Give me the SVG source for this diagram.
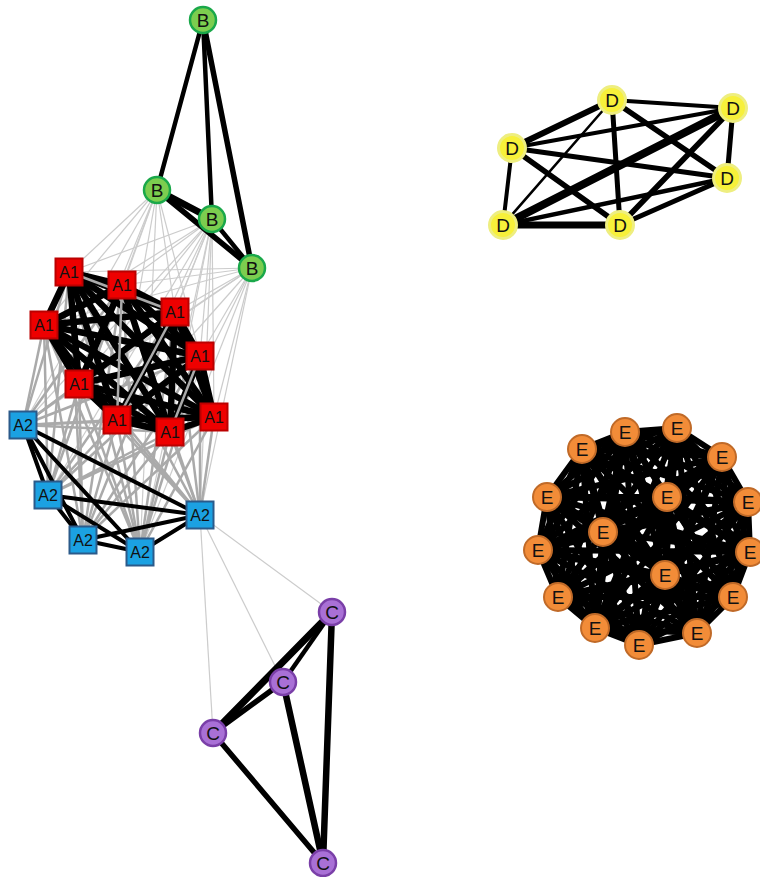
<svg xmlns="http://www.w3.org/2000/svg" width="760" height="877" viewBox="0 0 760 877">
<style>
text{font-family:"Liberation Sans","Open Sans",sans-serif;font-size:19px;fill:#111;text-anchor:middle;dominant-baseline:central}
.a1 text,.a2 text{font-size:16px}
.k{stroke:#000;stroke-linecap:round}
.g{stroke:#aaa;stroke-width:2.5}
.lg{stroke:#ccc;stroke-width:1.2}
.a1 rect{fill:#e00;stroke:#b00;stroke-width:2}
.a2 rect{fill:#1ba1e2;stroke:#2b5a8a;stroke-width:2}
.b circle{fill:#7ccd4f;stroke:#1aa84a;stroke-width:2.5}
.c circle{fill:#a970d6;stroke:#7a3fa8;stroke-width:2.5}
.d circle{fill:#f7f03a;stroke:#eeee80;stroke-width:3}
.e circle{fill:#f28c38;stroke:#c06a28;stroke-width:2}
</style>
<g id="connectors">
<g class="lg">
<line x1="157" y1="190" x2="69" y2="272"/><line x1="157" y1="190" x2="122" y2="285"/><line x1="157" y1="190" x2="44" y2="325"/><line x1="157" y1="190" x2="175" y2="312"/><line x1="157" y1="190" x2="200" y2="356"/><line x1="157" y1="190" x2="79" y2="384"/><line x1="157" y1="190" x2="117" y2="420"/><line x1="157" y1="190" x2="23" y2="425"/><line x1="157" y1="190" x2="140" y2="552"/><line x1="157" y1="190" x2="48" y2="495"/>
<line x1="212" y1="219" x2="69" y2="272"/><line x1="212" y1="219" x2="122" y2="285"/><line x1="212" y1="219" x2="44" y2="325"/><line x1="212" y1="219" x2="175" y2="312"/><line x1="212" y1="219" x2="200" y2="356"/><line x1="212" y1="219" x2="79" y2="384"/><line x1="212" y1="219" x2="117" y2="420"/><line x1="212" y1="219" x2="170" y2="432"/><line x1="212" y1="219" x2="214" y2="417"/><line x1="212" y1="219" x2="23" y2="425"/><line x1="212" y1="219" x2="83" y2="540"/><line x1="212" y1="219" x2="140" y2="552"/><line x1="212" y1="219" x2="200" y2="515"/><line x1="212" y1="219" x2="48" y2="495"/>
<line x1="252" y1="268" x2="69" y2="272"/><line x1="252" y1="268" x2="122" y2="285"/><line x1="252" y1="268" x2="44" y2="325"/><line x1="252" y1="268" x2="175" y2="312"/><line x1="252" y1="268" x2="200" y2="356"/><line x1="252" y1="268" x2="79" y2="384"/><line x1="252" y1="268" x2="117" y2="420"/><line x1="252" y1="268" x2="170" y2="432"/><line x1="252" y1="268" x2="214" y2="417"/><line x1="252" y1="268" x2="23" y2="425"/><line x1="252" y1="268" x2="140" y2="552"/><line x1="252" y1="268" x2="200" y2="515"/>
<line x1="200" y1="515" x2="332" y2="612"/><line x1="200" y1="515" x2="283" y2="682"/><line x1="200" y1="515" x2="213" y2="733"/>
</g>
<g class="g">
<line x1="23" y1="425" x2="69" y2="272"/><line x1="23" y1="425" x2="122" y2="285"/><line x1="23" y1="425" x2="44" y2="325"/><line x1="23" y1="425" x2="175" y2="312"/><line x1="23" y1="425" x2="200" y2="356"/><line x1="23" y1="425" x2="79" y2="384"/><line x1="23" y1="425" x2="117" y2="420"/><line x1="23" y1="425" x2="170" y2="432"/><line x1="23" y1="425" x2="214" y2="417"/>
<line x1="48" y1="495" x2="69" y2="272"/><line x1="48" y1="495" x2="122" y2="285"/><line x1="48" y1="495" x2="44" y2="325"/><line x1="48" y1="495" x2="175" y2="312"/><line x1="48" y1="495" x2="200" y2="356"/><line x1="48" y1="495" x2="79" y2="384"/><line x1="48" y1="495" x2="117" y2="420"/><line x1="48" y1="495" x2="170" y2="432"/><line x1="48" y1="495" x2="214" y2="417"/>
<line x1="83" y1="540" x2="69" y2="272"/><line x1="83" y1="540" x2="122" y2="285"/><line x1="83" y1="540" x2="44" y2="325"/><line x1="83" y1="540" x2="175" y2="312"/><line x1="83" y1="540" x2="200" y2="356"/><line x1="83" y1="540" x2="79" y2="384"/><line x1="83" y1="540" x2="117" y2="420"/><line x1="83" y1="540" x2="170" y2="432"/><line x1="83" y1="540" x2="214" y2="417"/>
<line x1="140" y1="552" x2="69" y2="272"/><line x1="140" y1="552" x2="122" y2="285"/><line x1="140" y1="552" x2="44" y2="325"/><line x1="140" y1="552" x2="175" y2="312"/><line x1="140" y1="552" x2="200" y2="356"/><line x1="140" y1="552" x2="79" y2="384"/><line x1="140" y1="552" x2="117" y2="420"/><line x1="140" y1="552" x2="170" y2="432"/><line x1="140" y1="552" x2="214" y2="417"/>
<line x1="200" y1="515" x2="69" y2="272"/><line x1="200" y1="515" x2="122" y2="285"/><line x1="200" y1="515" x2="44" y2="325"/><line x1="200" y1="515" x2="175" y2="312"/><line x1="200" y1="515" x2="200" y2="356"/><line x1="200" y1="515" x2="79" y2="384"/><line x1="200" y1="515" x2="117" y2="420"/><line x1="200" y1="515" x2="170" y2="432"/><line x1="200" y1="515" x2="214" y2="417"/>
</g>
<g class="k" stroke-width="6.5">
<line x1="69" y1="272" x2="122" y2="285"/><line x1="69" y1="272" x2="44" y2="325"/><line x1="69" y1="272" x2="175" y2="312"/><line x1="69" y1="272" x2="200" y2="356"/><line x1="69" y1="272" x2="79" y2="384"/><line x1="69" y1="272" x2="117" y2="420"/><line x1="69" y1="272" x2="170" y2="432"/><line x1="69" y1="272" x2="214" y2="417"/>
<line x1="122" y1="285" x2="44" y2="325"/><line x1="122" y1="285" x2="175" y2="312"/><line x1="122" y1="285" x2="200" y2="356"/><line x1="122" y1="285" x2="79" y2="384"/><line x1="122" y1="285" x2="170" y2="432"/><line x1="122" y1="285" x2="214" y2="417"/>
<line x1="44" y1="325" x2="175" y2="312"/><line x1="44" y1="325" x2="200" y2="356"/><line x1="44" y1="325" x2="79" y2="384"/><line x1="44" y1="325" x2="117" y2="420"/><line x1="44" y1="325" x2="170" y2="432"/><line x1="44" y1="325" x2="214" y2="417"/>
<line x1="175" y1="312" x2="200" y2="356"/><line x1="175" y1="312" x2="79" y2="384"/><line x1="175" y1="312" x2="117" y2="420"/><line x1="175" y1="312" x2="170" y2="432"/><line x1="175" y1="312" x2="214" y2="417"/>
<line x1="200" y1="356" x2="79" y2="384"/><line x1="200" y1="356" x2="117" y2="420"/><line x1="200" y1="356" x2="170" y2="432"/><line x1="200" y1="356" x2="214" y2="417"/>
<line x1="79" y1="384" x2="117" y2="420"/><line x1="79" y1="384" x2="170" y2="432"/><line x1="79" y1="384" x2="214" y2="417"/>
<line x1="117" y1="420" x2="170" y2="432"/><line x1="117" y1="420" x2="214" y2="417"/><line x1="170" y1="432" x2="214" y2="417"/>
</g>
<g class="g" stroke-width="2">
<line x1="122" y1="285" x2="117" y2="420"/><line x1="175" y1="312" x2="117" y2="420"/><line x1="200" y1="356" x2="170" y2="432"/><line x1="69" y1="272" x2="175" y2="312"/>
</g>
<g class="k" stroke-width="4">
<line x1="23" y1="425" x2="48" y2="495"/><line x1="23" y1="425" x2="83" y2="540"/><line x1="23" y1="425" x2="140" y2="552"/><line x1="23" y1="425" x2="200" y2="515"/>
<line x1="48" y1="495" x2="83" y2="540"/><line x1="48" y1="495" x2="140" y2="552"/><line x1="48" y1="495" x2="200" y2="515"/>
<line x1="83" y1="540" x2="140" y2="552"/><line x1="83" y1="540" x2="200" y2="515"/><line x1="140" y1="552" x2="200" y2="515"/>
</g>
<g class="k">
<line x1="203" y1="20" x2="157" y2="190" stroke-width="4.5"/>
<line x1="203" y1="20" x2="212" y2="219" stroke-width="4.5"/>
<line x1="203" y1="20" x2="252" y2="268" stroke-width="5.5"/>
<line x1="157" y1="190" x2="212" y2="219" stroke-width="7"/>
<line x1="157" y1="190" x2="252" y2="268" stroke-width="5.5"/>
<line x1="212" y1="219" x2="252" y2="268" stroke-width="4.5"/>
</g>
<g class="k">
<line x1="332" y1="612" x2="213" y2="733" stroke-width="7"/>
<line x1="332" y1="612" x2="283" y2="682" stroke-width="4.5"/>
<line x1="283" y1="682" x2="213" y2="733" stroke-width="5.5"/>
<line x1="332" y1="612" x2="323" y2="863" stroke-width="6.5"/>
<line x1="283" y1="682" x2="323" y2="863" stroke-width="6.5"/>
<line x1="213" y1="733" x2="323" y2="863" stroke-width="5.5"/>
</g>
<g class="k">
<line x1="612" y1="100" x2="733" y2="108" stroke-width="4"/>
<line x1="612" y1="100" x2="512" y2="148" stroke-width="6"/>
<line x1="612" y1="100" x2="727" y2="178" stroke-width="5.5"/>
<line x1="612" y1="100" x2="503" y2="225" stroke-width="2.5"/>
<line x1="612" y1="100" x2="620" y2="225" stroke-width="5"/>
<line x1="733" y1="108" x2="512" y2="148" stroke-width="4"/>
<line x1="733" y1="108" x2="727" y2="178" stroke-width="5"/>
<line x1="733" y1="108" x2="503" y2="225" stroke-width="8"/>
<line x1="733" y1="108" x2="620" y2="225" stroke-width="5.5"/>
<line x1="512" y1="148" x2="727" y2="178" stroke-width="5"/>
<line x1="512" y1="148" x2="503" y2="225" stroke-width="4"/>
<line x1="512" y1="148" x2="620" y2="225" stroke-width="5.5"/>
<line x1="727" y1="178" x2="503" y2="225" stroke-width="4.5"/>
<line x1="727" y1="178" x2="620" y2="225" stroke-width="5"/>
<line x1="503" y1="225" x2="620" y2="225" stroke-width="7"/>
</g>
<g class="k" stroke-width="6" id="e-edges">
<line x1="625" y1="432" x2="677" y2="428"/><line x1="625" y1="432" x2="582" y2="449"/><line x1="625" y1="432" x2="722" y2="457"/><line x1="625" y1="432" x2="547" y2="497"/><line x1="625" y1="432" x2="667" y2="497"/><line x1="625" y1="432" x2="748" y2="502"/><line x1="625" y1="432" x2="603" y2="532"/><line x1="625" y1="432" x2="538" y2="550"/><line x1="625" y1="432" x2="750" y2="552"/><line x1="625" y1="432" x2="665" y2="575"/><line x1="625" y1="432" x2="558" y2="597"/><line x1="625" y1="432" x2="733" y2="597"/><line x1="625" y1="432" x2="595" y2="628"/><line x1="625" y1="432" x2="697" y2="633"/><line x1="625" y1="432" x2="639" y2="645"/>
<line x1="677" y1="428" x2="582" y2="449"/><line x1="677" y1="428" x2="722" y2="457"/><line x1="677" y1="428" x2="547" y2="497"/><line x1="677" y1="428" x2="667" y2="497"/><line x1="677" y1="428" x2="748" y2="502"/><line x1="677" y1="428" x2="603" y2="532"/><line x1="677" y1="428" x2="538" y2="550"/><line x1="677" y1="428" x2="750" y2="552"/><line x1="677" y1="428" x2="665" y2="575"/><line x1="677" y1="428" x2="558" y2="597"/><line x1="677" y1="428" x2="733" y2="597"/><line x1="677" y1="428" x2="595" y2="628"/><line x1="677" y1="428" x2="697" y2="633"/><line x1="677" y1="428" x2="639" y2="645"/>
<line x1="582" y1="449" x2="722" y2="457"/><line x1="582" y1="449" x2="547" y2="497"/><line x1="582" y1="449" x2="667" y2="497"/><line x1="582" y1="449" x2="748" y2="502"/><line x1="582" y1="449" x2="603" y2="532"/><line x1="582" y1="449" x2="538" y2="550"/><line x1="582" y1="449" x2="750" y2="552"/><line x1="582" y1="449" x2="665" y2="575"/><line x1="582" y1="449" x2="558" y2="597"/><line x1="582" y1="449" x2="733" y2="597"/><line x1="582" y1="449" x2="595" y2="628"/><line x1="582" y1="449" x2="697" y2="633"/><line x1="582" y1="449" x2="639" y2="645"/>
<line x1="722" y1="457" x2="547" y2="497"/><line x1="722" y1="457" x2="667" y2="497"/><line x1="722" y1="457" x2="748" y2="502"/><line x1="722" y1="457" x2="603" y2="532"/><line x1="722" y1="457" x2="538" y2="550"/><line x1="722" y1="457" x2="750" y2="552"/><line x1="722" y1="457" x2="665" y2="575"/><line x1="722" y1="457" x2="558" y2="597"/><line x1="722" y1="457" x2="733" y2="597"/><line x1="722" y1="457" x2="595" y2="628"/><line x1="722" y1="457" x2="697" y2="633"/><line x1="722" y1="457" x2="639" y2="645"/>
<line x1="547" y1="497" x2="667" y2="497"/><line x1="547" y1="497" x2="748" y2="502"/><line x1="547" y1="497" x2="603" y2="532"/><line x1="547" y1="497" x2="538" y2="550"/><line x1="547" y1="497" x2="750" y2="552"/><line x1="547" y1="497" x2="665" y2="575"/><line x1="547" y1="497" x2="558" y2="597"/><line x1="547" y1="497" x2="733" y2="597"/><line x1="547" y1="497" x2="595" y2="628"/><line x1="547" y1="497" x2="697" y2="633"/><line x1="547" y1="497" x2="639" y2="645"/>
<line x1="667" y1="497" x2="748" y2="502"/><line x1="667" y1="497" x2="603" y2="532"/><line x1="667" y1="497" x2="538" y2="550"/><line x1="667" y1="497" x2="750" y2="552"/><line x1="667" y1="497" x2="665" y2="575"/><line x1="667" y1="497" x2="558" y2="597"/><line x1="667" y1="497" x2="733" y2="597"/><line x1="667" y1="497" x2="595" y2="628"/><line x1="667" y1="497" x2="697" y2="633"/><line x1="667" y1="497" x2="639" y2="645"/>
<line x1="748" y1="502" x2="603" y2="532"/><line x1="748" y1="502" x2="538" y2="550"/><line x1="748" y1="502" x2="750" y2="552"/><line x1="748" y1="502" x2="665" y2="575"/><line x1="748" y1="502" x2="558" y2="597"/><line x1="748" y1="502" x2="733" y2="597"/><line x1="748" y1="502" x2="595" y2="628"/><line x1="748" y1="502" x2="697" y2="633"/><line x1="748" y1="502" x2="639" y2="645"/>
<line x1="603" y1="532" x2="538" y2="550"/><line x1="603" y1="532" x2="750" y2="552"/><line x1="603" y1="532" x2="665" y2="575"/><line x1="603" y1="532" x2="558" y2="597"/><line x1="603" y1="532" x2="733" y2="597"/><line x1="603" y1="532" x2="595" y2="628"/><line x1="603" y1="532" x2="697" y2="633"/><line x1="603" y1="532" x2="639" y2="645"/>
<line x1="538" y1="550" x2="750" y2="552"/><line x1="538" y1="550" x2="665" y2="575"/><line x1="538" y1="550" x2="558" y2="597"/><line x1="538" y1="550" x2="733" y2="597"/><line x1="538" y1="550" x2="595" y2="628"/><line x1="538" y1="550" x2="697" y2="633"/><line x1="538" y1="550" x2="639" y2="645"/>
<line x1="750" y1="552" x2="665" y2="575"/><line x1="750" y1="552" x2="558" y2="597"/><line x1="750" y1="552" x2="733" y2="597"/><line x1="750" y1="552" x2="595" y2="628"/><line x1="750" y1="552" x2="697" y2="633"/><line x1="750" y1="552" x2="639" y2="645"/>
<line x1="665" y1="575" x2="558" y2="597"/><line x1="665" y1="575" x2="733" y2="597"/><line x1="665" y1="575" x2="595" y2="628"/><line x1="665" y1="575" x2="697" y2="633"/><line x1="665" y1="575" x2="639" y2="645"/>
<line x1="558" y1="597" x2="733" y2="597"/><line x1="558" y1="597" x2="595" y2="628"/><line x1="558" y1="597" x2="697" y2="633"/><line x1="558" y1="597" x2="639" y2="645"/>
<line x1="733" y1="597" x2="595" y2="628"/><line x1="733" y1="597" x2="697" y2="633"/><line x1="733" y1="597" x2="639" y2="645"/>
<line x1="595" y1="628" x2="697" y2="633"/><line x1="595" y1="628" x2="639" y2="645"/><line x1="697" y1="633" x2="639" y2="645"/>
</g>
</g>
<g id="nodes-B" class="b">
<g id="b1"><circle cx="203" cy="20" r="13"/><text x="203" y="20">B</text></g>
<g id="b2"><circle cx="157" cy="190" r="13"/><text x="157" y="190">B</text></g>
<g id="b3"><circle cx="212" cy="219" r="13"/><text x="212" y="219">B</text></g>
<g id="b4"><circle cx="252" cy="268" r="13"/><text x="252" y="268">B</text></g>
</g>
<g id="nodes-A1" class="a1">
<g id="a1-1"><rect x="55.5" y="258.5" width="27" height="27"/><text x="69" y="272">A1</text></g>
<g id="a1-2"><rect x="108.5" y="271.5" width="27" height="27"/><text x="122" y="285">A1</text></g>
<g id="a1-3"><rect x="30.5" y="311.5" width="27" height="27"/><text x="44" y="325">A1</text></g>
<g id="a1-4"><rect x="161.5" y="298.5" width="27" height="27"/><text x="175" y="312">A1</text></g>
<g id="a1-5"><rect x="186.5" y="342.5" width="27" height="27"/><text x="200" y="356">A1</text></g>
<g id="a1-6"><rect x="65.5" y="370.5" width="27" height="27"/><text x="79" y="384">A1</text></g>
<g id="a1-7"><rect x="103.5" y="406.5" width="27" height="27"/><text x="117" y="420">A1</text></g>
<g id="a1-8"><rect x="156.5" y="418.5" width="27" height="27"/><text x="170" y="432">A1</text></g>
<g id="a1-9"><rect x="200.5" y="403.5" width="27" height="27"/><text x="214" y="417">A1</text></g>
</g>
<g id="nodes-A2" class="a2">
<g id="a2-1"><rect x="9.5" y="411.5" width="27" height="27"/><text x="23" y="425">A2</text></g>
<g id="a2-2"><rect x="34.5" y="481.5" width="27" height="27"/><text x="48" y="495">A2</text></g>
<g id="a2-3"><rect x="69.5" y="526.5" width="27" height="27"/><text x="83" y="540">A2</text></g>
<g id="a2-4"><rect x="126.5" y="538.5" width="27" height="27"/><text x="140" y="552">A2</text></g>
<g id="a2-5"><rect x="186.5" y="501.5" width="27" height="27"/><text x="200" y="515">A2</text></g>
</g>
<g id="nodes-C" class="c">
<g id="c1"><circle cx="332" cy="612" r="13"/><text x="332" y="612">C</text></g>
<g id="c2"><circle cx="283" cy="682" r="13"/><text x="283" y="682">C</text></g>
<g id="c3"><circle cx="213" cy="733" r="13"/><text x="213" y="733">C</text></g>
<g id="c4"><circle cx="323" cy="863" r="13"/><text x="323" y="863">C</text></g>
</g>
<g id="nodes-D" class="d">
<g id="d1"><circle cx="612" cy="100" r="13.5"/><text x="612" y="100">D</text></g>
<g id="d2"><circle cx="733" cy="108" r="13.5"/><text x="733" y="108">D</text></g>
<g id="d3"><circle cx="512" cy="148" r="13.5"/><text x="512" y="148">D</text></g>
<g id="d4"><circle cx="727" cy="178" r="13.5"/><text x="727" y="178">D</text></g>
<g id="d5"><circle cx="503" cy="225" r="13.5"/><text x="503" y="225">D</text></g>
<g id="d6"><circle cx="620" cy="225" r="13.5"/><text x="620" y="225">D</text></g>
</g>
<g id="nodes-E" class="e">
<g id="e1"><circle cx="625" cy="432" r="14"/><text x="625" y="432">E</text></g>
<g id="e2"><circle cx="677" cy="428" r="14"/><text x="677" y="428">E</text></g>
<g id="e3"><circle cx="582" cy="449" r="14"/><text x="582" y="449">E</text></g>
<g id="e4"><circle cx="722" cy="457" r="14"/><text x="722" y="457">E</text></g>
<g id="e5"><circle cx="547" cy="497" r="14"/><text x="547" y="497">E</text></g>
<g id="e6"><circle cx="667" cy="497" r="14"/><text x="667" y="497">E</text></g>
<g id="e7"><circle cx="748" cy="502" r="14"/><text x="748" y="502">E</text></g>
<g id="e8"><circle cx="603" cy="532" r="14"/><text x="603" y="532">E</text></g>
<g id="e9"><circle cx="538" cy="550" r="14"/><text x="538" y="550">E</text></g>
<g id="e10"><circle cx="750" cy="552" r="14"/><text x="750" y="552">E</text></g>
<g id="e11"><circle cx="665" cy="575" r="14"/><text x="665" y="575">E</text></g>
<g id="e12"><circle cx="558" cy="597" r="14"/><text x="558" y="597">E</text></g>
<g id="e13"><circle cx="733" cy="597" r="14"/><text x="733" y="597">E</text></g>
<g id="e14"><circle cx="595" cy="628" r="14"/><text x="595" y="628">E</text></g>
<g id="e15"><circle cx="697" cy="633" r="14"/><text x="697" y="633">E</text></g>
<g id="e16"><circle cx="639" cy="645" r="14"/><text x="639" y="645">E</text></g>
</g>
</svg>
